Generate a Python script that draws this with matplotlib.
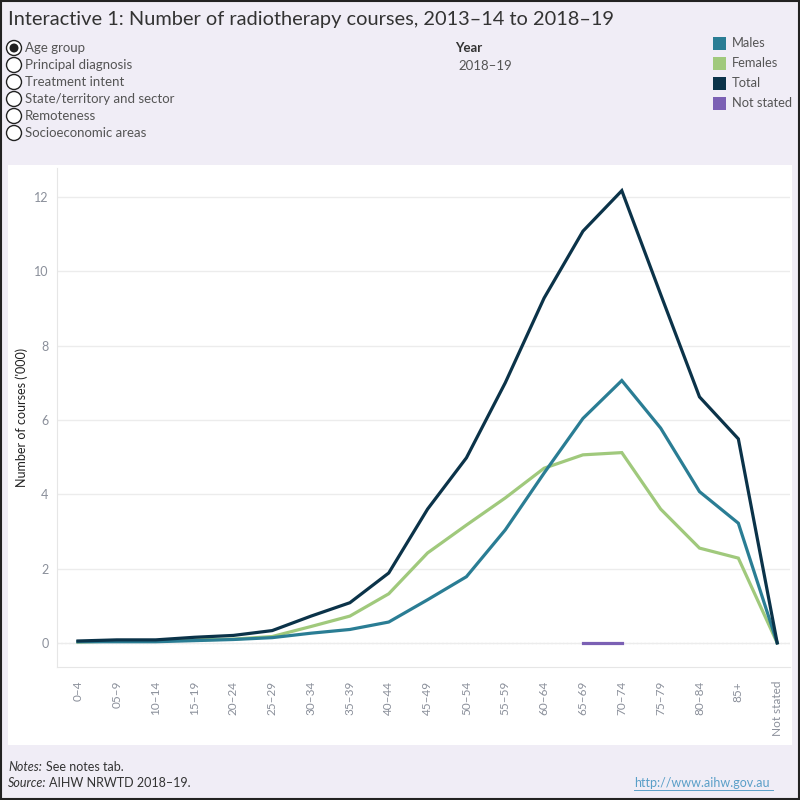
import matplotlib
matplotlib.use("Agg")
import matplotlib.pyplot as plt
from matplotlib.patches import Rectangle, Circle
import numpy as np

plt.rcParams['font.family'] = ['Lato', 'DejaVu Sans']

age_groups = ["0–4", "05–9", "10–14", "15–19", "20–24", "25–29", "30–34", "35–39",
              "40–44", "45–49", "50–54", "55–59", "60–64", "65–69", "70–74", "75–79",
              "80–84", "85+", "Not stated"]
males = [0.03, 0.03, 0.03, 0.06, 0.09, 0.14, 0.26, 0.36, 0.56, 1.16, 1.78, 3.04,
         4.57, 6.04, 7.06, 5.78, 4.07, 3.22, 0.0]
females = [0.02, 0.05, 0.05, 0.08, 0.10, 0.17, 0.44, 0.72, 1.32, 2.42, 3.17, 3.90,
           4.70, 5.06, 5.12, 3.60, 2.55, 2.28, 0.0]
total = [0.05, 0.08, 0.08, 0.15, 0.20, 0.33, 0.72, 1.08, 1.88, 3.60, 4.98, 7.00,
         9.28, 11.08, 12.17, 9.38, 6.62, 5.49, 0.0]
not_stated = [None] * 13 + [0.0, 0.0] + [None] * 4

series_names = ["Males", "Females", "Total", "Not stated"]
series_colors = ["#2a7d94", "#a0c97c", "#0b3349", "#7b60b4"]

radio_options = ["Age group", "Principal diagnosis", "Treatment intent",
                 "State/territory and sector", "Remoteness", "Socioeconomic areas"]

bg = "#f0edf6"
W = H = 800
fig = plt.figure(figsize=(8, 8), dpi=100, facecolor=bg)

def fx(px):
    return px / W

def fy(py):
    return 1 - py / H

# white panel
fig.patches.append(Rectangle((fx(8), fy(745)), fx(792) - fx(8), fy(165) - fy(745),
                             transform=fig.transFigure, facecolor="white",
                             edgecolor="none", zorder=-5))
# outer border
fig.patches.append(Rectangle((0.0008, 0.0008), 0.9984, 0.9984, transform=fig.transFigure,
                             facecolor="none", edgecolor="#222222", lw=1.5, zorder=5))

# title
fig.text(fx(8), fy(19), "Interactive 1: Number of radiotherapy courses, 2013–14 to 2018–19",
         fontsize=14.4, color="#333333", va="center", ha="left")

# radio buttons
for i, opt in enumerate(radio_options):
    yc = 48 + i * 17
    fig.patches.append(Circle((fx(14), fy(yc)), 7.5 / W, transform=fig.transFigure,
                              facecolor="white", edgecolor="#222222",
                              lw=1.0, zorder=3))
    if i == 0:
        fig.patches.append(Circle((fx(14), fy(yc)), 4.5 / W, transform=fig.transFigure,
                                  facecolor="#222222", edgecolor="none", zorder=4))
    fig.text(fx(25), fy(yc), opt, fontsize=9.5, color="#555555", va="center", ha="left")

# year
fig.text(fx(455), fy(48), "Year", fontsize=9.5, color="#333333", va="center",
         ha="left", fontweight="bold")
fig.text(fx(458), fy(66), "2018–19", fontsize=9.5, color="#555555", va="center", ha="left")

# legend
for i, (name, col) in enumerate(zip(series_names, series_colors)):
    yc = 43 + i * 20
    fig.patches.append(Rectangle((fx(713), fy(yc + 7)), 13 / W, 13 / H,
                                 transform=fig.transFigure, facecolor=col,
                                 edgecolor="none", zorder=3))
    fig.text(fx(732), fy(yc), name, fontsize=9.3, color="#555555", va="center", ha="left")

# axes
ax = fig.add_axes([fx(57), fy(667), fx(790) - fx(57), fy(168) - fy(667)], zorder=2)
ax.set_facecolor("none")
x = np.arange(len(age_groups))
ax.plot(x, females, color=series_colors[1], lw=2.3, solid_joinstyle="miter", zorder=3)
ax.plot(x, males, color=series_colors[0], lw=2.3, solid_joinstyle="miter", zorder=4)
ax.plot(x, total, color=series_colors[2], lw=2.3, solid_joinstyle="miter", zorder=5)
ns = np.array([np.nan if v is None else v for v in not_stated], dtype=float)
ax.plot(x, ns, color=series_colors[3], lw=2.3, zorder=6)

ax.set_xlim(-0.54, 18.33)
ax.set_ylim(-0.65, 12.78)
ax.axhline(0, color="#aaaaaa", lw=0.8, ls=(0, (1, 2.5)), zorder=1)
ax.set_yticks([0, 2, 4, 6, 8, 10, 12])
ax.grid(axis="y", color="#ececec", lw=1, zorder=0)
ax.set_xticks(x)
ax.set_xticklabels(age_groups, rotation=90, fontsize=8.5, color="#8a8f9a")
ax.tick_params(axis="y", labelsize=9, colors="#8a8f9a", length=0, pad=6)
ax.tick_params(axis="x", length=0, pad=10)
for s in ["top", "right"]:
    ax.spines[s].set_visible(False)
ax.spines["left"].set_color("#e6e6e6")
ax.spines["bottom"].set_color("#e6e6e6")
ax.set_ylabel("Number of courses ('000)", fontsize=9, color="#222222", labelpad=4.5)

# notes
fig.text(fx(8), fy(767), "Notes:", fontsize=9, color="#333333", style="italic",
         va="center", ha="left")
fig.text(fx(46), fy(767), "See notes tab.", fontsize=9, color="#333333", va="center", ha="left")
fig.text(fx(8), fy(783), "Source:", fontsize=9, color="#333333", style="italic",
         va="center", ha="left")
fig.text(fx(49), fy(783), "AIHW NRWTD 2018–19.", fontsize=9, color="#333333",
         va="center", ha="left")
fig.text(fx(634), fy(783), "http://www.aihw.gov.au", fontsize=9, color="#5a9fc8",
         va="center", ha="left")
fig.lines.append(plt.Line2D([fx(634), fx(773)], [fy(790), fy(790)], transform=fig.transFigure,
                            color="#5a9fc8", lw=0.7))

fig.savefig("out.png", dpi=100, facecolor=bg)
